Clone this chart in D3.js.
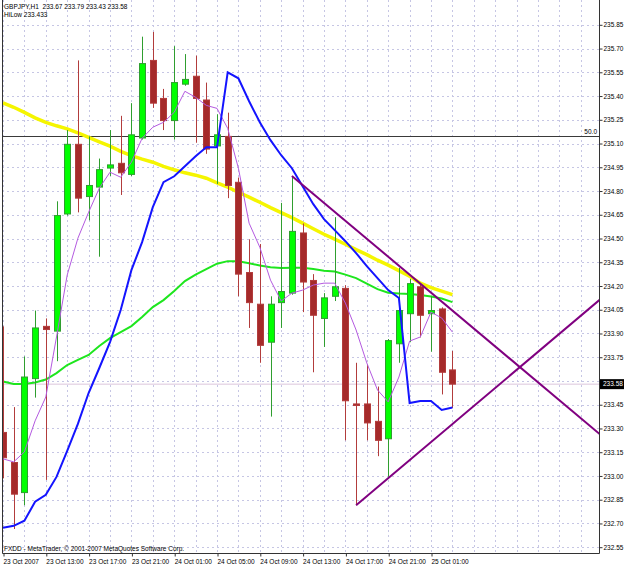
<!DOCTYPE html>
<html><head><meta charset="utf-8">
<script src="https://cdn.jsdelivr.net/npm/d3@7/dist/d3.min.js"></script>
<style>
body{margin:0;background:#fff}
svg{display:block}
text{font-family:"Liberation Sans",Arial,sans-serif;white-space:pre}
</style>
</head><body>
<svg id="chart" width="625" height="566"></svg>
<script>
// ---------- DATA ----------
const symbol = "GBPJPY,H1";
const indicatorName = "HiLow";
const copyright = "FXDD - MetaTrader, \u00A9 2001-2007 MetaQuotes Software Corp.";

const open  = [233.275,233.085,232.895,233.615,233.945,233.915,234.655,235.095,234.765,234.825,234.945,234.975,234.905,235.135,235.625,235.385,235.245,235.475,235.525,235.375,235.085,235.145,234.855,234.285,234.085,233.845,234.095,234.155,234.535,234.235,233.995,234.135,234.185,233.455,233.455,233.345,233.235,233.835,234.025,234.195,234.025,234.055,233.67];
const high  = [233.945,233.435,233.755,234.045,233.995,234.735,235.185,235.625,235.145,235.005,235.185,235.275,235.355,235.775,235.805,235.445,235.715,235.665,235.655,235.485,235.285,235.295,234.885,234.495,234.465,234.135,234.725,234.895,234.595,234.275,234.155,234.635,234.205,233.715,233.705,233.565,233.865,234.315,234.245,234.215,234.135,234.065,233.79];
const low   = [232.985,232.665,232.815,233.495,232.975,233.725,234.645,234.665,234.615,234.385,234.895,234.775,234.895,235.125,235.325,235.185,235.125,235.465,235.105,235.035,234.845,234.755,234.135,233.935,233.715,233.375,233.935,234.145,234.035,233.655,233.815,234.105,233.225,232.815,233.225,233.125,232.995,233.715,233.845,233.875,233.785,233.515,233.43];
const close = [233.115,232.885,233.625,233.935,233.925,234.645,235.095,234.755,234.835,234.935,234.965,234.915,235.155,235.605,235.355,235.245,235.485,235.505,235.385,235.065,235.155,234.835,234.275,234.095,233.825,234.085,234.165,234.545,234.225,234.015,234.125,234.195,233.475,233.445,233.335,233.225,233.855,234.045,234.215,234.015,234.045,233.655,233.58];

// yellow slow MA
const maSlow = [235.357,235.329,235.297,235.262,235.234,235.212,235.193,235.168,235.139,235.111,235.083,235.051,235.023,235.001,234.982,234.956,234.934,234.915,234.900,234.881,234.852,234.824,234.792,234.761,234.729,234.695,234.663,234.632,234.597,234.562,234.527,234.496,234.464,234.430,234.398,234.363,234.332,234.297,234.262,234.218,234.190,234.168,234.146];
// green medium MA
const maMid = [233.597,233.581,233.581,233.591,233.609,233.650,233.701,233.733,233.764,233.821,233.871,233.909,233.947,234.004,234.067,234.111,234.168,234.231,234.272,234.307,234.341,234.357,234.357,234.344,234.329,234.319,234.313,234.316,234.316,234.307,234.297,234.291,234.272,234.250,234.215,234.180,234.158,234.152,234.149,234.143,234.133,234.121,234.098];
// blue HiLow
const hiLow = [232.673,232.685,232.717,232.837,232.881,232.994,233.158,233.329,233.524,233.682,233.846,234.048,234.300,234.477,234.698,234.856,234.893,234.956,235.020,235.076,235.076,235.550,235.512,235.367,235.234,235.121,235.026,234.944,234.830,234.717,234.622,234.553,234.483,234.408,234.326,234.250,234.174,234.124,233.461,233.474,233.474,233.417,233.433];
// violet fast MA
const maFast = [233.108,233.089,233.152,233.348,233.499,233.878,234.269,234.502,234.666,234.818,234.919,234.887,234.982,235.133,235.203,235.234,235.297,235.430,235.392,235.341,235.322,235.196,234.944,234.597,234.445,234.237,234.105,234.155,234.174,234.206,234.218,234.218,234.092,233.922,233.714,233.543,233.468,233.625,233.852,233.878,234.035,233.998,233.909];

const priceTicks = [235.85,235.70,235.55,235.40,235.25,235.10,234.95,234.80,234.65,234.50,234.35,234.20,234.05,233.90,233.75,233.60,233.45,233.30,233.15,233.00,232.85,232.70,232.55];
const timeTickBars = [0,4,8,12,16,20,24,28,32,36,40];
const timeTickLabels = ["23 Oct 2007","23 Oct 13:00","23 Oct 17:00","23 Oct 21:00","24 Oct 01:00","24 Oct 05:00","24 Oct 09:00","24 Oct 13:00","24 Oct 17:00","24 Oct 21:00","25 Oct 01:00"];

const trendUpper = [[27,234.895],[39,234.215]];
const trendLower = [[33,232.815],[36,232.986]];
const fiboLevel = 235.146, fiboLabel = "50.0";
const bidPrice = 233.58;
const hiLowLast = 233.433;

// ---------- LAYOUT ----------
const svg = d3.select("#chart");
const P = {left:2, right:599, top:0, bottom:553};
const n = close.length;
const x = d3.scaleLinear().domain([0, n-1]).range([3, 452.4]);
const y = d3.scaleLinear().domain([232.55, 235.85]).range([547.2, 24.8]);
const xMax = x.invert(P.right);

svg.append("defs").append("clipPath").attr("id","clip")
  .append("rect").attr("x",P.left).attr("y",P.top).attr("width",P.right-P.left).attr("height",P.bottom-P.top);

const gridColor = "#c6c6e4";
svg.append("g").selectAll("line").data(priceTicks).join("line")
  .attr("x1",P.left).attr("x2",P.right)
  .attr("y1",d=>Math.round(y(d))+0.5).attr("y2",d=>Math.round(y(d))+0.5)
  .attr("stroke",gridColor).attr("stroke-dasharray","2,3");
const vGrid = d3.range(0, Math.floor(xMax)+1, 2);
svg.append("g").selectAll("line").data(vGrid).join("line")
  .attr("x1",d=>Math.round(x(d))+0.5).attr("x2",d=>Math.round(x(d))+0.5)
  .attr("y1",P.top).attr("y2",P.bottom)
  .attr("stroke",gridColor).attr("stroke-dasharray","2,3");

const plotG = svg.append("g").attr("clip-path","url(#clip)");

// bid line
plotG.append("line").attr("x1",P.left).attr("x2",P.right)
  .attr("y1",y(bidPrice)).attr("y2",y(bidPrice))
  .attr("stroke","#dcc6dc").attr("stroke-width",1);

// fibo 50 line
plotG.append("line").attr("x1",P.left).attr("x2",P.right)
  .attr("y1",Math.round(y(fiboLevel))+0.5).attr("y2",Math.round(y(fiboLevel))+0.5)
  .attr("stroke","#3a3a3a").attr("stroke-width",1);
svg.append("text").attr("x",597).attr("y",y(fiboLevel)-2).attr("text-anchor","end")
  .attr("font-size","6.5px").attr("fill","#000").text(fiboLabel);

const line = d3.line().x((d,i)=>x(i)).y(d=>y(d));

plotG.append("path").attr("d",line(maMid)).attr("fill","none").attr("stroke","#1ee61e").attr("stroke-width",2);
plotG.append("path").attr("d",line(maSlow)).attr("fill","none").attr("stroke","#f5f500").attr("stroke-width",3.5);

// candles
const cg = plotG.append("g");
const bars = d3.range(n);
const bullBar = "#2f9e2f", bearBar = "#b23c3c";
cg.selectAll("line.wick").data(bars).join("line").attr("class","wick")
  .attr("x1",i=>Math.round(x(i))+0.5).attr("x2",i=>Math.round(x(i))+0.5)
  .attr("y1",i=>y(high[i])).attr("y2",i=>y(low[i]))
  .attr("stroke",i=>close[i]>=open[i]?bullBar:bearBar).attr("stroke-width",1);
cg.selectAll("rect.body").data(bars).join("rect").attr("class","body")
  .attr("x",i=>Math.round(x(i))-3+0.5).attr("width",6)
  .attr("y",i=>y(Math.max(open[i],close[i])))
  .attr("height",i=>Math.max(1.5, Math.abs(y(open[i])-y(close[i]))))
  .attr("fill",i=>close[i]>=open[i]?"#00ff00":"#a52a2a")
  .attr("stroke",i=>close[i]>=open[i]?bullBar:bearBar).attr("stroke-width",1);

plotG.append("path").attr("d",line(maFast)).attr("fill","none").attr("stroke","#b45ae0").attr("stroke-width",1);
plotG.append("path").attr("d",line(hiLow)).attr("fill","none").attr("stroke","#1414ff").attr("stroke-width",2);

// trendlines extended to right edge
function extend(tl){
  const [[i1,p1],[i2,p2]] = tl;
  const s = (p2-p1)/(i2-i1);
  return [[i1,p1],[xMax+1, p1 + s*(xMax+1-i1)]];
}
[trendUpper, trendLower].forEach(tl=>{
  const pts = extend(tl);
  plotG.append("line")
    .attr("x1",x(pts[0][0])).attr("y1",y(pts[0][1]))
    .attr("x2",x(pts[1][0])).attr("y2",y(pts[1][1]))
    .attr("stroke","#800080").attr("stroke-width",2);
});

// frame
svg.append("path").attr("d",`M${P.left+0.5},${P.top}V${P.bottom+0.5}H${P.right+0.5}V${P.top}`)
  .attr("fill","none").attr("stroke","#333").attr("stroke-width",1);

// right axis (label hidden where the current-price box sits)
const fmt2 = d3.format(".2f");
const yAxis = d3.axisRight(y).tickValues(priceTicks).tickSize(3).tickSizeOuter(0).tickPadding(1)
  .tickFormat(d => Math.abs(y(d)-y(bidPrice)) < 8 ? "" : fmt2(d));
const ya = svg.append("g").attr("transform",`translate(${P.right+0.5},0)`).call(yAxis);
ya.select(".domain").remove();
ya.selectAll(".tick line").attr("stroke","#333");
ya.selectAll(".tick text").attr("font-size","6.5px").attr("font-family","Liberation Sans, Arial, sans-serif").attr("fill","#000");

// current price box
const by = y(bidPrice);
svg.append("rect").attr("x",600).attr("y",by-5).attr("width",24).attr("height",10).attr("fill","#000");
svg.append("text").attr("x",603).attr("y",by+2.3).attr("font-size","6.5px").attr("fill","#fff").text(fmt2(bidPrice));

// bottom axis
const xAxis = d3.axisBottom(x).tickValues(timeTickBars).tickSize(3).tickSizeOuter(0)
  .tickFormat((d,i)=>timeTickLabels[i]);
const xa = svg.append("g").attr("transform",`translate(0,${P.bottom+0.5})`).call(xAxis);
xa.select(".domain").remove();
xa.selectAll(".tick line").attr("stroke","#333").attr("transform","translate(0.5,0)");
xa.selectAll(".tick text").attr("font-size","6.5px").attr("font-family","Liberation Sans, Arial, sans-serif")
  .attr("fill","#000").attr("text-anchor","start").attr("dx","0").attr("y",6).attr("dy","0.71em");

// header
svg.append("text").attr("x",4).attr("y",8.5).attr("font-size","6.5px").attr("fill","#000")
  .text(`${symbol}  ${open[n-1].toFixed(2)} ${high[n-1].toFixed(2)} ${low[n-1].toFixed(2)} ${close[n-1].toFixed(2)}`);
svg.append("text").attr("x",4).attr("y",16.5).attr("font-size","6.5px").attr("fill","#000")
  .text(`${indicatorName} ${hiLowLast.toFixed(3)}`);
// footer
svg.append("text").attr("x",4).attr("y",551).attr("font-size","6.5px").attr("fill","#000").text(copyright);
</script>
</body></html>
